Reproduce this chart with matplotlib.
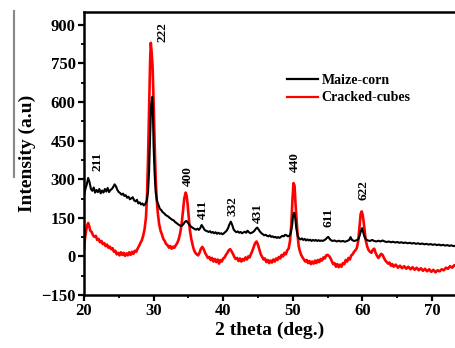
import matplotlib
matplotlib.use("Agg")
import matplotlib.pyplot as plt
from matplotlib.lines import Line2D

plt.rcParams["font.family"] = ["Liberation Serif", "DejaVu Serif"]

# Maize-corn (black) pattern
maize_x = [20.0, 20.2, 20.4, 20.6, 20.8, 21.0, 21.2, 21.4, 21.6, 21.8, 22.0, 22.2, 22.4, 22.6, 22.8,
           23.0, 23.2, 23.4, 23.6, 23.8, 24.0, 24.2, 24.4, 24.6, 24.8, 25.0, 25.2, 25.4, 25.6, 25.8,
           26.0, 26.2, 26.4, 26.6, 26.8, 27.0, 27.2, 27.4, 27.6, 27.8, 28.0, 28.2, 28.4, 28.6, 28.8,
           29.0, 29.2, 29.35, 29.5, 29.65, 29.8, 29.9, 30.0, 30.15, 30.3, 30.5, 30.7, 30.9, 31.1, 31.3,
           31.5, 31.7, 31.9, 32.1, 32.3, 32.5, 32.7, 32.9, 33.1, 33.3, 33.5, 33.7, 33.9, 34.1, 34.3,
           34.5, 34.7, 34.9, 35.1, 35.3, 35.5, 35.7, 35.9, 36.1, 36.3, 36.5, 36.7, 36.9, 37.1, 37.3,
           37.5, 37.7, 37.9, 38.1, 38.3, 38.5, 38.7, 38.9, 39.1, 39.3, 39.5, 39.7, 39.9, 40.1, 40.3,
           40.5, 40.7, 40.9, 41.1, 41.3, 41.5, 41.7, 41.9, 42.1, 42.3, 42.5, 42.7, 42.9, 43.1, 43.3,
           43.5, 43.7, 43.9, 44.1, 44.3, 44.5, 44.7, 44.9, 45.1, 45.3, 45.5, 45.7, 45.9, 46.1, 46.3,
           46.5, 46.7, 46.9, 47.1, 47.3, 47.5, 47.7, 47.9, 48.1, 48.3, 48.5, 48.7, 48.9, 49.1, 49.3,
           49.5, 49.7, 49.9, 50.05, 50.2, 50.35, 50.5, 50.7, 50.9, 51.1, 51.3, 51.5, 51.7, 51.9, 52.1,
           52.3, 52.5, 52.7, 52.9, 53.1, 53.3, 53.5, 53.7, 53.9, 54.1, 54.3, 54.5, 54.7, 54.9, 55.1,
           55.3, 55.5, 55.7, 56.0, 56.3, 56.6, 56.9, 57.2, 57.5, 57.8, 58.1, 58.3, 58.5, 58.8, 59.1,
           59.4, 59.6, 59.8, 59.95, 60.1, 60.3, 60.5, 60.8, 61.1, 61.4, 61.7, 62.0, 62.3, 62.6, 62.9,
           63.2, 63.5, 63.8, 64.1, 64.4, 64.7, 65.0, 65.3, 65.6, 65.9, 66.2, 66.5, 66.8, 67.1, 67.4,
           67.7, 68.0, 68.3, 68.6, 68.9, 69.2, 69.5, 69.8, 70.1, 70.4, 70.7, 71.0, 71.3, 71.6, 71.9,
           72.2, 72.5, 72.8, 73.1, 73.5]
maize_y = [235, 262, 280, 305, 288, 262, 255, 268, 248, 258, 250, 262, 245, 256, 248,
           262, 252, 266, 250, 258, 262, 270, 280, 272, 258, 250, 246, 240, 244, 235,
           238, 228, 232, 222, 226, 230, 218, 214, 220, 206, 210, 202, 206, 198, 204,
           215, 250, 330, 470, 590, 620, 560, 430, 320, 250, 215, 200, 185, 180, 172,
           168, 162, 158, 155, 150, 146, 142, 140, 133, 130, 125, 122, 118, 120, 126,
           134, 138, 132, 124, 118, 113, 110, 106, 104, 108, 103, 110, 122, 114, 104,
           100, 98, 95, 98, 92, 95, 90, 94, 88, 92, 88, 90, 86, 90, 95,
           100, 110, 125, 135, 122, 105, 98, 94, 97, 92, 95, 90, 93, 96, 92,
           100, 94, 90, 92, 95, 100, 108, 112, 104, 96, 90, 86, 82, 84, 80,
           78, 82, 76, 78, 74, 76, 72, 75, 72, 76, 80, 78, 84, 82, 78,
           80, 90, 120, 160, 170, 150, 110, 80, 70, 66, 70, 64, 68, 62, 66,
           62, 65, 60, 64, 61, 64, 60, 63, 60, 62, 60, 63, 66, 72, 76,
           68, 63, 60, 62, 58, 61, 58, 60, 57, 60, 64, 75, 64, 60, 62,
           66, 80, 100, 110, 96, 76, 66, 62, 60, 64, 60, 58, 61, 58, 62,
           58, 56, 58, 55, 57, 54, 56, 53, 55, 52, 54, 51, 53, 50, 52,
           49, 51, 48, 50, 47, 49, 46, 48, 45, 47, 44, 46, 43, 45, 42,
           44, 41, 43, 40, 42]

# Cracked-cubes (red) pattern
cubes_x = [20.0, 20.15, 20.3, 20.45, 20.6, 20.75, 20.9, 21.1, 21.3, 21.5, 21.7, 21.9, 22.1, 22.3, 22.5,
           22.7, 22.9, 23.1, 23.3, 23.5, 23.7, 23.9, 24.1, 24.3, 24.5, 24.7, 24.9, 25.1, 25.3, 25.5,
           25.7, 25.9, 26.1, 26.3, 26.5, 26.7, 26.9, 27.1, 27.3, 27.5, 27.7, 27.9, 28.1, 28.3, 28.5,
           28.7, 28.9, 29.05, 29.2, 29.35, 29.5, 29.6, 29.7, 29.85, 30.0, 30.15, 30.3, 30.45, 30.6, 30.8,
           31.0, 31.2, 31.4, 31.6, 31.8, 32.0, 32.2, 32.4, 32.6, 32.8, 33.0, 33.2, 33.4, 33.6, 33.8,
           34.0, 34.2, 34.4, 34.6, 34.75, 34.9, 35.05, 35.2, 35.4, 35.6, 35.8, 36.0, 36.2, 36.4, 36.6,
           36.8, 37.0, 37.2, 37.4, 37.6, 37.8, 38.0, 38.2, 38.4, 38.6, 38.8, 39.0, 39.2, 39.4, 39.6,
           39.8, 40.0, 40.2, 40.4, 40.6, 40.8, 41.0, 41.2, 41.4, 41.6, 41.8, 42.0, 42.2, 42.4, 42.6,
           42.8, 43.0, 43.2, 43.4, 43.6, 43.8, 44.0, 44.2, 44.4, 44.6, 44.8, 45.0, 45.2, 45.4, 45.6,
           45.8, 46.0, 46.2, 46.4, 46.6, 46.8, 47.0, 47.2, 47.4, 47.6, 47.8, 48.0, 48.2, 48.4, 48.6,
           48.8, 49.0, 49.2, 49.4, 49.6, 49.8, 49.95, 50.1, 50.25, 50.4, 50.55, 50.7, 50.85, 51.0, 51.2,
           51.4, 51.6, 51.8, 52.0, 52.2, 52.4, 52.6, 52.8, 53.0, 53.2, 53.4, 53.6, 53.8, 54.0, 54.2,
           54.4, 54.6, 54.8, 55.0, 55.2, 55.4, 55.6, 55.8, 56.0, 56.2, 56.4, 56.6, 56.8, 57.0, 57.2,
           57.4, 57.6, 57.8, 58.0, 58.2, 58.4, 58.6, 58.8, 59.0, 59.2, 59.4, 59.6, 59.75, 59.9, 60.05,
           60.2, 60.35, 60.5, 60.7, 60.9, 61.1, 61.3, 61.5, 61.7, 61.9, 62.1, 62.3, 62.5, 62.7, 62.9,
           63.1, 63.3, 63.5, 63.7, 63.9, 64.1, 64.3, 64.5, 64.8, 65.1, 65.4, 65.7, 66.0, 66.3, 66.6,
           66.9, 67.2, 67.5, 67.8, 68.1, 68.4, 68.7, 69.0, 69.3, 69.6, 69.9, 70.2, 70.5, 70.8, 71.1,
           71.4, 71.7, 72.0, 72.3, 72.6, 72.9, 73.2, 73.5]
cubes_y = [30, 70, 100, 120, 130, 118, 100, 95, 82, 76, 80, 64, 68, 55, 60,
           48, 52, 40, 46, 34, 38, 28, 32, 18, 22, 8, 14, 4, 16, 6,
           14, 2, 12, 4, 16, 6, 18, 10, 22, 18, 30, 40, 52, 62, 80,
           105, 150, 230, 380, 580, 760, 830, 800, 740, 600, 440, 300, 220, 170, 125,
           100, 85, 68, 60, 48, 44, 34, 40, 30, 38, 34, 44, 52, 66, 88,
           120, 170, 225, 248, 235, 200, 150, 105, 70, 45, 25, 14, 8, 4, 14,
           30, 37, 28, 14, 4, -6, -2, -14, -6, -20, -10, -22, -12, -28, -14,
           -20, -8, -4, 6, 14, 24, 28, 20, 10, -2, -10, -6, -18, -8, -20,
           -10, -16, -4, -12, 0, -4, 10, 22, 38, 52, 58, 45, 26, 8, -2,
           -12, -8, -22, -14, -26, -16, -24, -12, -20, -8, -14, -2, -8, 6, 0,
           14, 8, 24, 30, 60, 130, 220, 285, 275, 200, 140, 80, 40, 22, 6,
           -4, -12, -20, -14, -26, -18, -30, -20, -28, -16, -26, -14, -22, -10, -16,
           -4, -8, 4, 6, 2, -6, -18, -30, -26, -40, -30, -42, -32, -40, -26,
           -30, -14, -20, -6, -12, 4, 8, 18, 24, 32, 60, 120, 165, 175, 160,
           130, 95, 60, 38, 24, 18, 14, 26, 30, 14, 2, -6, 2, 10, 6,
           -6, -16, -22, -28, -24, -36, -30, -40, -32, -44, -36, -46, -38, -48, -40,
           -50, -42, -52, -44, -54, -46, -56, -48, -58, -50, -60, -52, -62, -54, -58,
           -50, -54, -44, -48, -38, -44, -34, -40]

peak_labels = ["211", "222", "400", "411", "332", "431", "440", "611", "622"]
peak_x = [21.9, 31.35, 34.9, 37.1, 41.3, 45.0, 50.3, 55.1, 60.1]
peak_y = [371, 873, 313, 184, 196, 169, 367, 150, 258]

fig = plt.figure(figsize=(4.56, 3.48), dpi=100)
ax = fig.add_axes([84 / 456, 53 / 348, 372 / 456, 283 / 348])

ax.plot(cubes_x, cubes_y, color="#ff0000", lw=1.9, label="Cracked-cubes", zorder=2)
ax.plot(maize_x, maize_y, color="black", lw=1.5, label="Maize-corn", zorder=3)

for lbl, px, py in zip(peak_labels, peak_x, peak_y):
    ax.text(px, py, lbl, rotation=90, ha="center", va="center", fontsize=9.5, fontweight="bold")

ax.set_xlim(20, 73.45)
ax.set_ylim(-150, 950)
ax.set_xticks([20, 30, 40, 50, 60, 70])
ax.set_xticks([25, 35, 45, 55, 65], minor=True)
ax.set_yticks([-150, 0, 150, 300, 450, 600, 750, 900])
ax.set_yticks([-75, 75, 225, 375, 525, 675, 825], minor=True)
ax.tick_params(which="major", direction="out", length=4, width=1.6, labelsize=12, pad=2)
ax.tick_params(which="minor", direction="out", length=2.5, width=1.3)
for t in ax.get_xticklabels() + ax.get_yticklabels():
    t.set_fontweight("bold")
for s in ("left", "bottom", "top"):
    ax.spines[s].set_linewidth(1.8)
ax.spines["right"].set_visible(False)

ax.set_xlabel("2 theta (deg.)", fontsize=14, fontweight="bold", labelpad=2)
ax.set_ylabel("Intensity (a.u)", fontsize=14, fontweight="bold", labelpad=4)

handles = [Line2D([], [], color="black", lw=1.6), Line2D([], [], color="#ff0000", lw=1.6)]
ax.legend(handles, ["Maize-corn", "Cracked-cubes"], loc="upper left", bbox_to_anchor=(0.546, 0.78),
          frameon=False, borderpad=0, borderaxespad=0, handlelength=2.2, handletextpad=0.3,
          labelspacing=0.3, prop={"size": 10, "weight": "bold"})

# grey rule at the left edge of the original figure
fig.add_artist(Line2D([14 / 456, 14 / 456], [1 - 11 / 348, 1 - 177 / 348], color="#888888", lw=1.5))

fig.savefig("out.png", dpi=100)
